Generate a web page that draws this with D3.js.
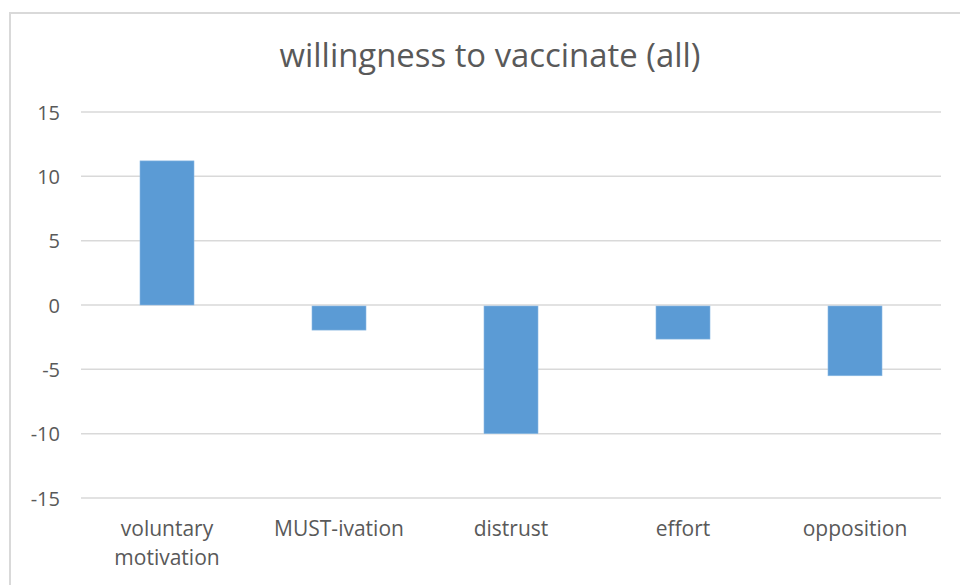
<!DOCTYPE html>
<html>
<head>
<meta charset="utf-8">
<script src="https://cdn.jsdelivr.net/npm/d3@7"></script>
<style>
  html, body { margin: 0; padding: 0; background: #fff; }
  svg { display: block; }
</style>
</head>
<body>
<svg id="chart" width="960" height="585"></svg>
<script>
const categories = [["voluntary", "motivation"], ["MUST-ivation"], ["distrust"], ["effort"], ["opposition"]];
const values = [11.2, -1.95, -10.0, -2.65, -5.5];
const yTicks = [-15, -10, -5, 0, 5, 10, 15];
const title = "willingness to vaccinate (all)";

const svg = d3.select("#chart");
const W = 960, H = 585;
const textColor = "#595959";
const font = "'Open Sans', 'Noto Sans', sans-serif";

// chart border
svg.append("rect")
  .attr("x", 10).attr("y", 13)
  .attr("width", W + 20).attr("height", H + 20)
  .attr("fill", "#fff")
  .attr("stroke", "#d9d9d9").attr("stroke-width", 2);

const plot = { left: 81, right: 941, top: 112, bottom: 498 };

const x = d3.scaleBand()
  .domain(d3.range(categories.length))
  .range([plot.left, plot.right])
  .paddingInner(0.686)
  .paddingOuter(0.343);

const y = d3.scaleLinear().domain([-15, 15]).range([plot.bottom, plot.top]);

// gridlines
svg.append("g").selectAll("line").data(yTicks).join("line")
  .attr("x1", plot.left).attr("x2", plot.right)
  .attr("y1", d => y(d)).attr("y2", d => y(d))
  .attr("stroke", "#d9d9d9").attr("stroke-width", 1.5);

// y axis labels
const yAxis = d3.axisLeft(y).tickValues(yTicks).tickSize(0).tickPadding(0)
  .tickFormat(d => String(d));
const yg = svg.append("g").attr("transform", `translate(60,0)`).call(yAxis);
yg.select(".domain").remove();
yg.selectAll("text")
  .attr("fill", textColor)
  .style("font-family", font)
  .style("font-size", "20px")
  .attr("dy", "0.36em");

// bars
svg.append("g").selectAll("rect").data(values).join("rect")
  .attr("x", (d, i) => x(i))
  .attr("width", x.bandwidth())
  .attr("y", d => d >= 0 ? y(d) : y(0) + 1)
  .attr("height", d => Math.abs(y(d) - y(0)) - (d < 0 ? 1 : 0))
  .attr("fill", "#5b9bd5")
  .attr("stroke", "#8cb9e3")
  .attr("stroke-width", 0.6);

// category labels
const cg = svg.append("g");
categories.forEach((lines, i) => {
  const t = cg.append("text")
    .attr("x", x(i) + x.bandwidth() / 2)
    .attr("y", 536)
    .attr("text-anchor", "middle")
    .attr("fill", textColor)
    .style("font-family", font)
    .style("font-size", "21px");
  lines.forEach((ln, j) => {
    t.append("tspan")
      .attr("x", x(i) + x.bandwidth() / 2)
      .attr("dy", j === 0 ? 0 : 29)
      .text(ln);
  });
});

// title
const tt = svg.append("text")
  .attr("x", 490)
  .attr("y", 67)
  .attr("text-anchor", "middle")
  .attr("fill", textColor)
  .style("font-family", font)
  .style("font-size", "30px")
  .text(title);
const wNow = tt.node().getComputedTextLength();
tt.style("font-size", (30 * 421 / wNow).toFixed(2) + "px");
</script>
</body>
</html>
